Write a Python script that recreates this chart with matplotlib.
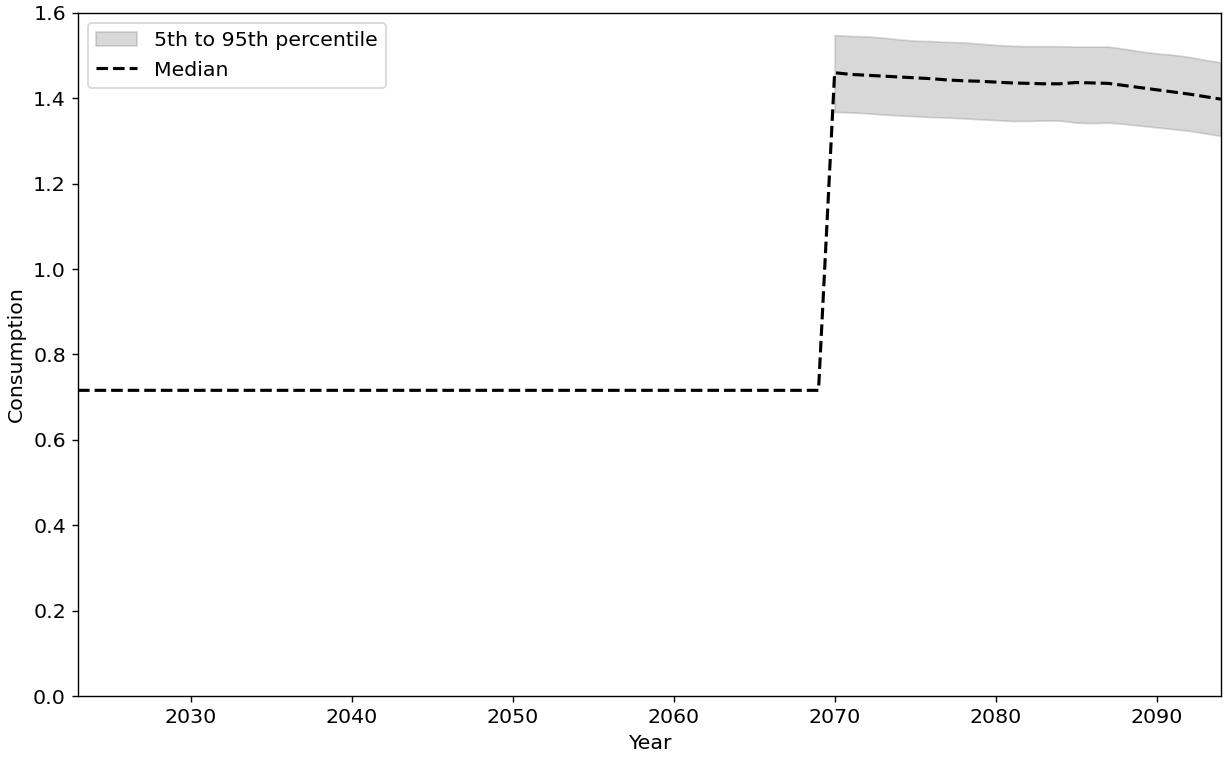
import numpy as np
import matplotlib
matplotlib.use("Agg")
import matplotlib.pyplot as plt

# Years and consumption series
years_early = list(range(2023, 2070))
median_early = [0.716] * len(years_early)

years_late = list(range(2070, 2095))
median_late = [1.460, 1.456, 1.454, 1.452, 1.450, 1.448, 1.446, 1.443, 1.441, 1.440,
               1.438, 1.436, 1.435, 1.434, 1.434, 1.437, 1.436, 1.435, 1.430, 1.425,
               1.420, 1.415, 1.410, 1.404, 1.398]
p95_late = [1.548, 1.546, 1.545, 1.542, 1.538, 1.535, 1.534, 1.532, 1.531, 1.528,
            1.525, 1.523, 1.522, 1.522, 1.522, 1.521, 1.521, 1.521, 1.516, 1.510,
            1.505, 1.502, 1.497, 1.490, 1.484]
p5_late = [1.368, 1.367, 1.365, 1.362, 1.360, 1.358, 1.356, 1.355, 1.353, 1.351,
           1.349, 1.347, 1.347, 1.348, 1.348, 1.343, 1.342, 1.343, 1.340, 1.336,
           1.332, 1.328, 1.324, 1.318, 1.312]

years = years_early + years_late
median = median_early + median_late

plt.rcParams["font.size"] = 11.8

fig, ax = plt.subplots(figsize=(9.8, 6.08), dpi=125)
fig.subplots_adjust(left=0.0637, right=0.9967, top=0.983, bottom=0.0842)

ax.fill_between(years_late, p5_late, p95_late, color="gray", alpha=0.3,
                label="5th to 95th percentile")
ax.plot(years, median, "k--", linewidth=1.8, label="Median")

ax.set_xlim(2023, 2094)
ax.set_ylim(0, 1.6)
ax.set_xlabel("Year")
ax.set_ylabel("Consumption")
ax.legend(loc="upper left")

fig.savefig("out.png", dpi=125)
